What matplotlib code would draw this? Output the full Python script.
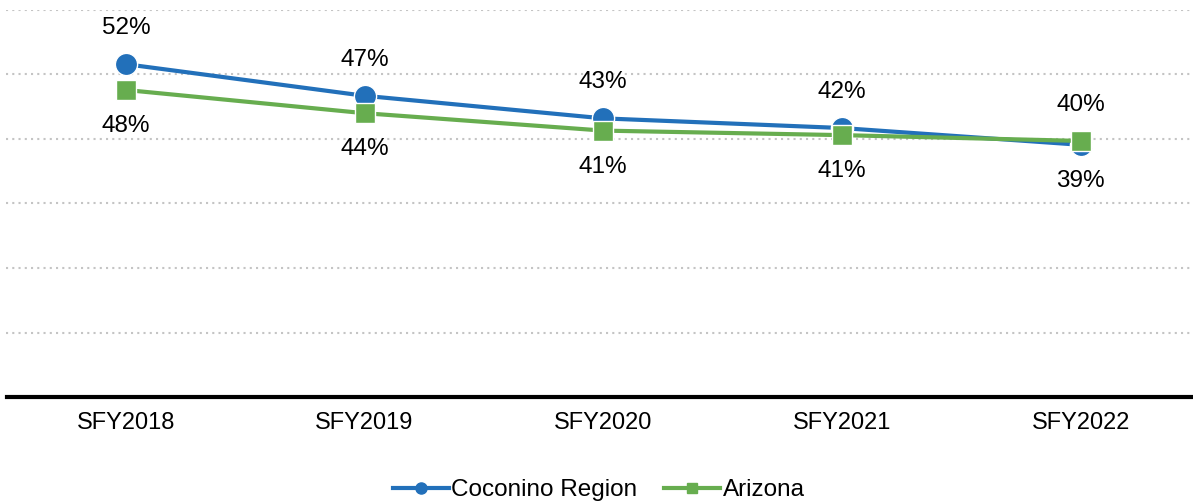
import matplotlib.pyplot as plt
from matplotlib.lines import Line2D

plt.rcParams['font.family'] = ['Liberation Sans', 'DejaVu Sans']

# chart data
years = ['SFY2018', 'SFY2019', 'SFY2020', 'SFY2021', 'SFY2022']
coconino = [51.6, 46.7, 43.2, 41.7, 39.1]
arizona = [47.6, 44.0, 41.3, 40.6, 39.7]

blue = '#2270BA'
green = '#67AD4F'

fig = plt.figure(figsize=(11.93, 5.04), dpi=100)
ax = fig.add_axes([6.5 / 1193, 107 / 504, 1193.5 / 1193, 387 / 504])

x = range(len(years))
ax.plot(x, coconino, color=blue, lw=3, marker='o', ms=16,
        mec='white', mew=1, zorder=3)
ax.plot(x, arizona, color=green, lw=3, marker='s', ms=14.5,
        mec='white', mew=1, zorder=4)

# data labels: Coconino above, Arizona below (except where they cross)
for i, (c, a) in enumerate(zip(coconino, arizona)):
    c_up = c >= a
    ax.annotate(f'{round(c)}%', (i, c), xytext=(0, 26 if c_up else -26),
                textcoords='offset points', ha='center', va='center',
                fontsize=17.5, color='black')
    ax.annotate(f'{round(a)}%', (i, a), xytext=(0, -26 if c_up else 26),
                textcoords='offset points', ha='center', va='center',
                fontsize=17.5, color='black')

ax.set_xlim(-0.5, 4.5)
ax.set_ylim(0, 60)
ax.set_yticks(range(10, 61, 10))
ax.yaxis.grid(True, color='#C4C4C4', ls=(0, (1, 2)), lw=1.5)
ax.set_yticklabels([])
ax.tick_params(axis='y', length=0)
ax.set_xticks(list(x))
ax.set_xticklabels(years, fontsize=17)
ax.tick_params(axis='x', length=0, pad=11)

for s in ['top', 'right', 'left']:
    ax.spines[s].set_visible(False)
ax.spines['bottom'].set_linewidth(3)
ax.spines['bottom'].set_color('black')

handles = [
    Line2D([], [], color=blue, lw=3, marker='o', ms=8, mec=blue),
    Line2D([], [], color=green, lw=3, marker='s', ms=7, mec=green),
]
fig.legend(handles, ['Coconino Region', 'Arizona'], loc='center',
           bbox_to_anchor=(0.502, 1 - 490 / 504), ncol=2, frameon=False,
           fontsize=17.5, handlelength=2.3, handletextpad=0.1,
           columnspacing=1.1)

fig.savefig('out.png', dpi=100)
